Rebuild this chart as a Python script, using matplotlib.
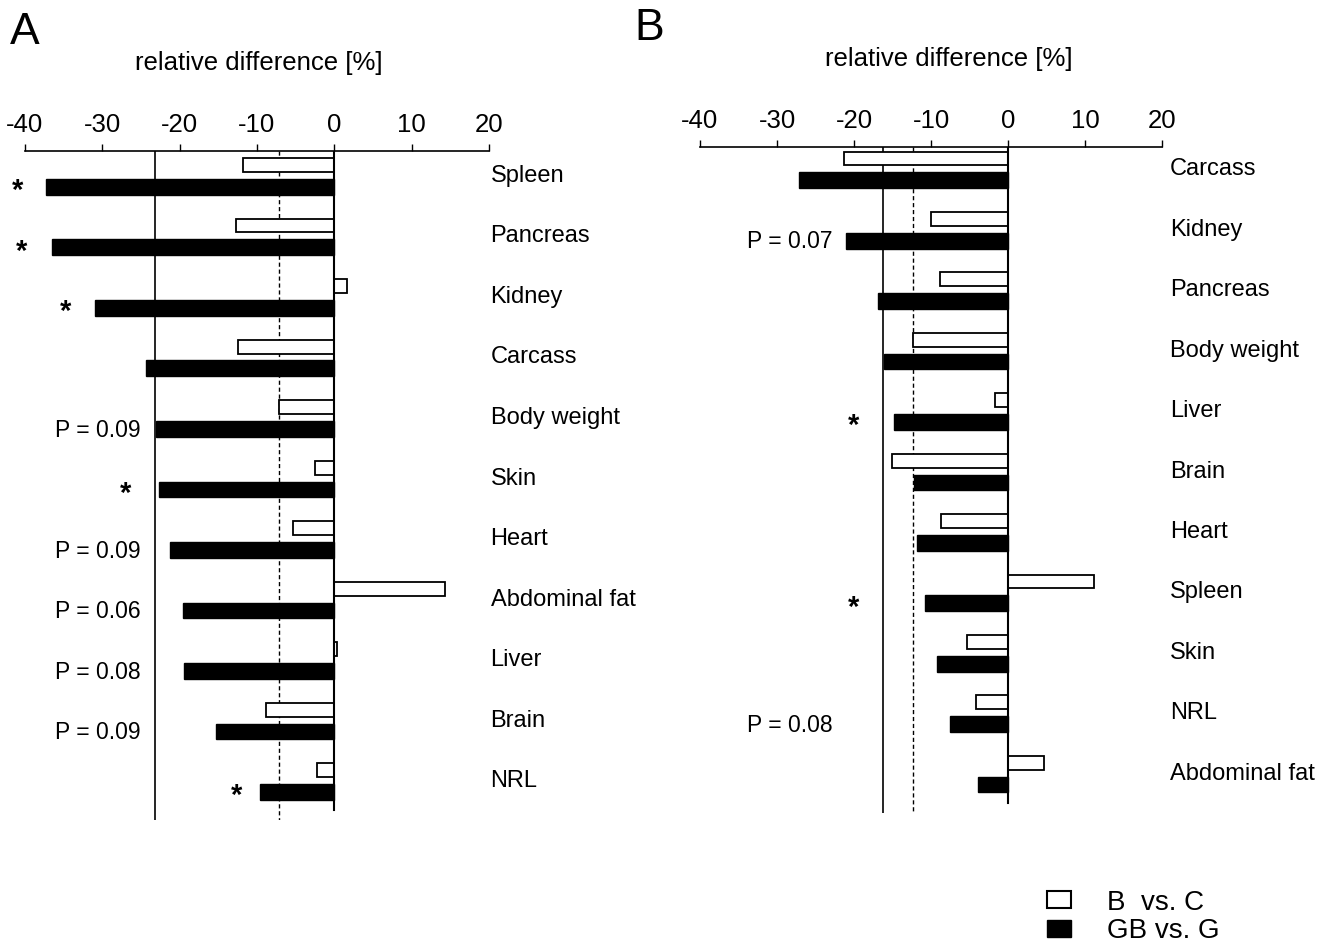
import matplotlib
matplotlib.use("Agg")
import matplotlib.pyplot as plt
from matplotlib.patches import Patch

plt.rcParams['font.family'] = ['Liberation Sans', 'DejaVu Sans']

# panel A
cats_a = ["Spleen", "Pancreas", "Kidney", "Carcass", "Body weight", "Skin",
          "Heart", "Abdominal fat", "Liver", "Brain", "NRL"]
bc_a = [-11.8, -12.7, 1.6, -12.5, -7.1, -2.5, -5.3, 14.3, 0.3, -8.8, -2.3]
gbg_a = [-37.3, -36.5, -30.9, -24.3, -23.1, -22.7, -21.2, -19.6, -19.5, -15.3, -9.6]
notes_a = ["*", "*", "*", "", "P = 0.09", "*", "P = 0.09", "P = 0.06", "P = 0.08", "P = 0.09", "*"]
star_x_a = [-40.9, -40.4, -34.7, 0, 0, -27.0, 0, 0, 0, 0, -12.7]
solid_a = -23.2
dashed_a = -7.1

# panel B
cats_b = ["Carcass", "Kidney", "Pancreas", "Body weight", "Liver", "Brain",
          "Heart", "Spleen", "Skin", "NRL", "Abdominal fat"]
bc_b = [-21.3, -10.0, -8.8, -12.3, -1.7, -15.1, -8.7, 11.2, -5.3, -4.2, 4.7]
gbg_b = [-27.1, -21.0, -16.9, -16.1, -14.8, -12.2, -11.8, -10.8, -9.2, -7.5, -3.9]
notes_b = ["", "P = 0.07", "", "", "*", "", "", "*", "", "P = 0.08", ""]
star_x_b = [0, 0, 0, 0, -20.1, 0, 0, -20.1, 0, 0, 0]
solid_b = -16.2
dashed_b = -12.3

W, H = 1326, 946
fig = plt.figure(figsize=(W / 100, H / 100), dpi=100)


def panel(rect, cats, bc, gbg, notes, star_x, solid, dashed, ylim, pval_x, label_x):
    ax = fig.add_axes(rect)
    n = len(cats)
    ys = list(range(n))
    ax.barh([y - 0.18 for y in ys], bc, height=0.23, color='white',
            edgecolor='black', linewidth=1.3, zorder=3)
    ax.barh([y + 0.18 for y in ys], gbg, height=0.26, color='black',
            edgecolor='black', linewidth=1.0, zorder=3)
    ax.plot([solid, solid], [ylim[1], ylim[0]], color='black', lw=1.2, zorder=2)
    ax.plot([dashed, dashed], [ylim[1], ylim[0]], color='black', lw=1.0,
            ls=(0, (3, 2)), zorder=2)
    ax.plot([0, 0], [ylim[1], ylim[0] - 0.16], color='black', lw=1.5, zorder=4)
    for i, c in enumerate(cats):
        ax.text(label_x, i, c, ha='left', va='center', fontsize=17)
        if notes[i] == "*":
            ax.text(star_x[i], i + 0.25, "*", ha='center', va='center',
                    fontsize=21, fontweight='bold')
        elif notes[i]:
            ax.text(pval_x, i + 0.2, notes[i], ha='right', va='center', fontsize=16.5)
    ax.set_xlim(-40, 20)
    ax.set_ylim(*ylim)
    ax.set_xticks([-40, -30, -20, -10, 0, 10, 20])
    ax.set_xticklabels(["-40", "-30", "-20", "-10", "0", "10", "20"])
    ax.xaxis.set_ticks_position('top')
    ax.tick_params(axis='x', direction='out', length=5, width=1.0,
                   labelsize=18.5, pad=5)
    ax.set_yticks([])
    for s in ['left', 'right', 'bottom']:
        ax.spines[s].set_visible(False)
    ax.spines['top'].set_linewidth(1.2)
    return ax


# panel A: x -40..20 -> px 25..489, top 151, bottom 820
panel([25 / W, 1 - 820 / H, 464 / W, (820 - 151) / H],
      cats_a, bc_a, gbg_a, notes_a, star_x_a, solid_a, dashed_a,
      (10.64, -0.41), -25.1, 20.2)
# panel B: x -40..20 -> px 700..1162, top 147, bottom 813
panel([700 / W, 1 - 813 / H, 462 / W, (813 - 147) / H],
      cats_b, bc_b, gbg_b, notes_b, star_x_b, solid_b, dashed_b,
      (10.65, -0.37), -22.8, 21.0)

fig.text(10 / W, 1 - 33 / H, "A", fontsize=32, ha='left', va='center')
fig.text(634 / W, 1 - 29 / H, "B", fontsize=32, ha='left', va='center')
fig.text(259 / W, 1 - 63 / H, "relative difference [%]", fontsize=18.5, ha='center', va='center')
fig.text(949 / W, 1 - 59 / H, "relative difference [%]", fontsize=18.5, ha='center', va='center')

handles = [Patch(facecolor='white', edgecolor='black', linewidth=1.5),
           Patch(facecolor='black', edgecolor='black')]
fig.legend(handles, ["B  vs. C", "GB vs. G"], loc='center left',
           bbox_to_anchor=(1033 / W, 1 - 917 / H), frameon=False, fontsize=20,
           handlelength=0.86, handleheight=0.58, handletextpad=1.3,
           labelspacing=0.1, borderaxespad=0.1)

fig.savefig("out.png", dpi=100)
